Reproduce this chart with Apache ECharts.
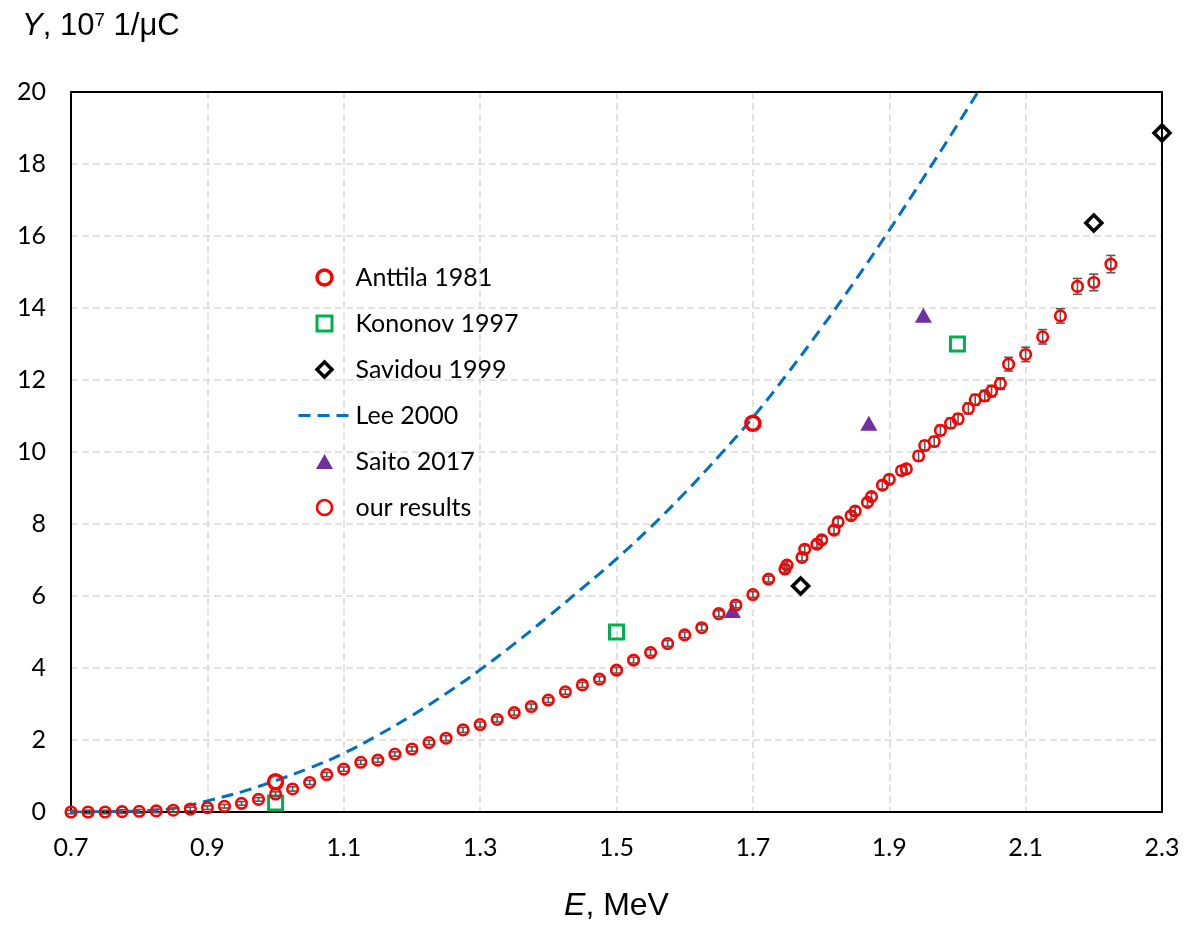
<!DOCTYPE html>
<html><head><meta charset="utf-8">
<script src="https://cdn.jsdelivr.net/npm/echarts@6/dist/echarts.min.js"></script>
<style>html,body{margin:0;padding:0;background:#fff}#c{width:1186px;height:925px}</style>
</head><body><div id="c"></div>
<script>
// ---- data ----
const anttilaE = [1.0, 1.7];
const anttilaY = [0.84, 10.8];
const kononovE = [1.0, 1.5, 2.0];
const kononovY = [0.25, 5.0, 13.0];
const savidouE = [1.77, 2.2, 2.3];
const savidouY = [6.28, 16.36, 18.86];
const saitoE = [1.67, 1.87, 1.95];
const saitoY = [5.6, 10.8, 13.8];
const leeE = [0.70, 0.75, 0.80, 0.85, 0.90, 0.95, 1.00, 1.05, 1.10, 1.15, 1.20, 1.25, 1.30, 1.35, 1.40, 1.45, 1.50, 1.55, 1.60, 1.65, 1.70, 1.75, 1.80, 1.85, 1.90, 1.95, 2.00, 2.03];
const leeY = [0.00, 0.01, 0.03, 0.10, 0.31, 0.56, 0.87, 1.22, 1.63, 2.13, 2.68, 3.29, 3.95, 4.67, 5.43, 6.22, 7.03, 7.91, 8.86, 9.88, 10.96, 12.16, 13.43, 14.76, 16.16, 17.61, 19.09, 20.00];
const ourE = [0.700, 0.725, 0.750, 0.775, 0.800, 0.825, 0.850, 0.875, 0.900, 0.925, 0.950, 0.975, 1.000, 1.025, 1.050, 1.075, 1.100, 1.125, 1.150, 1.175, 1.200, 1.225, 1.250, 1.275, 1.300, 1.325, 1.350, 1.375, 1.400, 1.425, 1.450, 1.475, 1.500, 1.525, 1.550, 1.575, 1.600, 1.625, 1.650, 1.675, 1.700, 1.723, 1.747, 1.750, 1.772, 1.776, 1.794, 1.801, 1.819, 1.825, 1.844, 1.850, 1.868, 1.874, 1.890, 1.900, 1.918, 1.925, 1.943, 1.952, 1.966, 1.975, 1.990, 2.001, 2.016, 2.026, 2.040, 2.050, 2.063, 2.075, 2.100, 2.125, 2.151, 2.176, 2.200, 2.225];
const ourY = [0.00, 0.00, 0.00, 0.01, 0.02, 0.03, 0.05, 0.08, 0.12, 0.16, 0.24, 0.35, 0.50, 0.64, 0.82, 1.04, 1.19, 1.38, 1.44, 1.61, 1.75, 1.93, 2.05, 2.28, 2.43, 2.57, 2.76, 2.93, 3.11, 3.34, 3.53, 3.69, 3.94, 4.22, 4.43, 4.68, 4.92, 5.12, 5.51, 5.75, 6.04, 6.47, 6.75, 6.86, 7.07, 7.30, 7.44, 7.56, 7.83, 8.06, 8.23, 8.36, 8.60, 8.76, 9.08, 9.24, 9.48, 9.53, 9.89, 10.18, 10.29, 10.60, 10.80, 10.92, 11.21, 11.45, 11.56, 11.69, 11.90, 12.44, 12.71, 13.20, 13.78, 14.60, 14.71, 15.22];
const ourErr = [0.05, 0.05, 0.05, 0.05, 0.05, 0.05, 0.05, 0.05, 0.05, 0.05, 0.05, 0.05, 0.06, 0.06, 0.06, 0.06, 0.06, 0.06, 0.06, 0.06, 0.06, 0.06, 0.07, 0.07, 0.07, 0.07, 0.07, 0.07, 0.07, 0.07, 0.07, 0.07, 0.08, 0.08, 0.08, 0.08, 0.08, 0.08, 0.08, 0.08, 0.08, 0.08, 0.09, 0.09, 0.09, 0.09, 0.09, 0.09, 0.10, 0.10, 0.10, 0.10, 0.10, 0.10, 0.11, 0.11, 0.12, 0.12, 0.13, 0.13, 0.13, 0.14, 0.14, 0.14, 0.15, 0.15, 0.15, 0.16, 0.16, 0.19, 0.20, 0.20, 0.20, 0.22, 0.23, 0.24];
const xTickLabels = ['0.7', '0.9', '1.1', '1.3', '1.5', '1.7', '1.9', '2.1', '2.3'];
const yTickLabels = ['0', '2', '4', '6', '8', '10', '12', '14', '16', '18', '20'];
const seriesNames = ['Anttila 1981', 'Kononov 1997', 'Savidou 1999', 'Lee 2000', 'Saito 2017', 'our results'];

// ---- build ----
const zip = (a, b) => a.map((v, i) => [v, b[i]]);
const TICK_FONT = 'Lato, "Open sans", sans-serif';
const ARIAL = '"Liberation Sans", Arial, sans-serif';
const chart = echarts.init(document.getElementById('c'), null, {renderer: 'canvas'});
const frameAxis = {
  min: 0, max: 1, show: true,
  axisLine: {show: true, onZero: false, lineStyle: {color: '#000', width: 2}},
  axisTick: {show: false}, axisLabel: {show: false}, splitLine: {show: false}, z: 3
};
const option = {
  backgroundColor: '#fff',
  animation: false,
  title: {
    text: '{i|Y}, 10{s|7} 1/\u03bcC',
    left: 17, top: 6,
    textStyle: {
      fontFamily: ARIAL, fontSize: 31, fontWeight: 'normal', color: '#000',
      rich: {
        i: {fontFamily: ARIAL, fontSize: 31, fontStyle: 'italic', color: '#000'},
        s: {fontFamily: ARIAL, fontSize: 19, verticalAlign: 'top', color: '#000', padding: [0, 0, 6, 0]}
      }
    }
  },
  legend: {
    orient: 'vertical',
    left: 292, top: 260,
    itemWidth: 52, itemHeight: 15, itemGap: 21,
    data: [
      {name: seriesNames[0]},
      {name: seriesNames[1], icon: 'path://M0,0L14,0L14,14L0,14Z'},
      {name: seriesNames[2], icon: 'path://M8,0L16,8L8,16L0,8Z'},
      {name: seriesNames[3], itemStyle: {color: 'rgba(0,0,0,0)', borderColor: 'rgba(0,0,0,0)', borderWidth: 0}},
      {name: seriesNames[4], icon: 'path://M8.5,0L17,15L0,15Z'},
      {name: seriesNames[5]}
    ],
    textStyle: {fontFamily: TICK_FONT, fontSize: 25, color: '#000'},
    itemStyle: {borderWidth: 'inherit'},
    lineStyle: {width: 'inherit'}
  },
  grid: {left: 71, right: 24, top: 92, bottom: 113, show: false, containLabel: false, outerBoundsMode: 'none'},
  xAxis: [{
    type: 'value', min: 0.7, max: 2.3, interval: 0.2,
    name: '{i|E}, MeV', nameLocation: 'middle', nameGap: 78,
    nameTextStyle: {
      fontFamily: ARIAL, fontSize: 32, color: '#000',
      rich: {i: {fontFamily: ARIAL, fontSize: 32, fontStyle: 'italic', color: '#000'}}
    },
    axisLine: {onZero: false, lineStyle: {color: '#000', width: 2}},
    axisTick: {show: false},
    axisLabel: {
      margin: 23, fontFamily: TICK_FONT, fontSize: 25, color: '#000',
      formatter: (v) => { const s = v.toFixed(1); return xTickLabels.indexOf(s) >= 0 ? s : ''; }
    },
    splitLine: {show: true, lineStyle: {color: '#d9d9d9', width: 1.5, type: [7, 4]}}
  }, Object.assign({type: 'value', position: 'top'}, frameAxis)],
  yAxis: [{
    type: 'value', min: 0, max: 20, interval: 2,
    axisLine: {show: true, onZero: false, lineStyle: {color: '#000', width: 2}},
    axisTick: {show: false},
    axisLabel: {
      margin: 25, fontFamily: TICK_FONT, fontSize: 25, color: '#000',
      formatter: (v) => { const s = String(Math.round(v)); return yTickLabels.indexOf(s) >= 0 ? s : ''; }
    },
    splitLine: {show: true, lineStyle: {color: '#d9d9d9', width: 1.5, type: [7, 4]}}
  }, Object.assign({type: 'value', position: 'right'}, frameAxis)],
  series: [
    {
      name: 'Anttila 1981', type: 'scatter', z: 6,
      data: zip(anttilaE, anttilaY),
      symbol: 'circle', symbolSize: 14,
      itemStyle: {color: 'rgba(255,255,255,0)', borderColor: '#ff0000', borderWidth: 3.5, opacity: 1}
    },
    {
      name: 'Kononov 1997', type: 'scatter', z: 4,
      data: zip(kononovE, kononovY),
      symbol: 'rect', symbolSize: 14,
      itemStyle: {color: 'rgba(255,255,255,0)', borderColor: '#00b050', borderWidth: 3, opacity: 1}
    },
    {
      name: 'Savidou 1999', type: 'scatter', z: 6,
      data: zip(savidouE, savidouY),
      symbol: 'diamond', symbolSize: 16,
      itemStyle: {color: 'rgba(255,255,255,0)', borderColor: '#000000', borderWidth: 3.5, opacity: 1}
    },
    {
      name: 'Lee 2000', type: 'line', z: 2,
      data: zip(leeE, leeY),
      symbol: 'none', smooth: 0.4,
      lineStyle: {color: '#0070c0', width: 3, type: [12, 7]},
      itemStyle: {color: '#0070c0'}
    },
    {
      name: 'Saito 2017', type: 'scatter', z: 4,
      data: zip(saitoE, saitoY),
      symbol: 'triangle', symbolSize: [17, 15],
      itemStyle: {color: '#7030a0', opacity: 1}
    },
    {
      name: 'errors', type: 'custom', z: 7, silent: true,
      data: ourE.map((e, i) => [e, ourY[i], ourErr[i]]),
      encode: {x: 0, y: 1},
      renderItem: function (params, api) {
        const x = api.value(0), y = api.value(1), e = api.value(2);
        const top = api.coord([x, y + e]);
        const bot = api.coord([x, y - e]);
        const hw = 4.5;
        const st = {stroke: '#595959', lineWidth: 1.6};
        return {type: 'group', children: [
          {type: 'line', shape: {x1: top[0], y1: top[1], x2: bot[0], y2: bot[1]}, style: st},
          {type: 'line', shape: {x1: top[0] - hw, y1: top[1], x2: top[0] + hw, y2: top[1]}, style: st},
          {type: 'line', shape: {x1: bot[0] - hw, y1: bot[1], x2: bot[0] + hw, y2: bot[1]}, style: st}
        ]};
      }
    },
    {
      name: 'our results', type: 'scatter', z: 8,
      data: zip(ourE, ourY),
      symbol: 'circle', symbolSize: 10.5,
      itemStyle: {color: 'rgba(255,255,255,0)', borderColor: '#ff0000', borderWidth: 2.6, opacity: 1}
    }
  ]
};
chart.setOption(option);
</script>
</body></html>
